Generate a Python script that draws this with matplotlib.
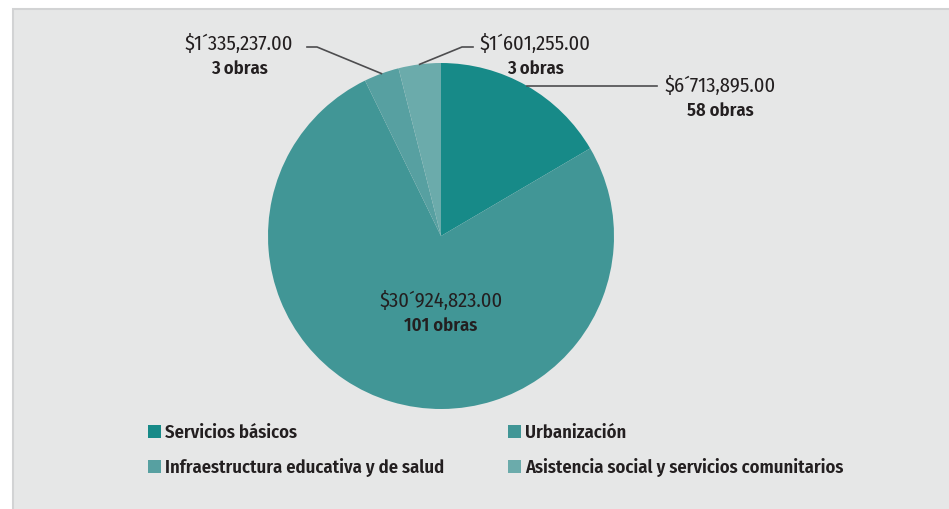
import numpy as np
import matplotlib
matplotlib.use("Agg")
import matplotlib.pyplot as plt
from matplotlib.patches import Rectangle

plt.rcParams['font.family'] = ['Fira Sans Condensed', 'DejaVu Sans']

categories = ["Servicios básicos", "Urbanización",
              "Infraestructura educativa y de salud",
              "Asistencia social y servicios comunitarios"]
amounts = [6713895.00, 30924823.00, 1335237.00, 1601255.00]
amount_labels = ["$6´713,895.00", "$30´924,823.00", "$1´335,237.00", "$1´601,255.00"]
obras = [58, 101, 3, 3]
colors = ["#178a88", "#419696", "#57a0a1", "#6babab"]

W, H = 949, 510
fig = plt.figure(figsize=(W / 100, H / 100), dpi=100)
fig.patch.set_facecolor("white")
ax = fig.add_axes([0, 0, 1, 1])

# gray panel with thin border on top/left
ax.add_patch(Rectangle((13, -5), W, H - 10 + 5, facecolor="#e6e7e7",
                       edgecolor="#d2d3d4", linewidth=1.5, zorder=0))

cx, cy, r = 441, 273, 173
wedges, _ = ax.pie(amounts, colors=colors, startangle=90, counterclock=False,
                   center=(cx, cy), radius=r, frame=True,
                   wedgeprops=dict(linewidth=0))
ax.set_xlim(0, W)
ax.set_ylim(0, H)
ax.axis("off")

txt = "#231f20"
line_c = "#4d4d4f"
fs = 14.8
fs_b = 13.4


def anchor(w):
    a = np.deg2rad((w.theta1 + w.theta2) / 2)
    return cx + r * np.cos(a), cy + r * np.sin(a)


def label(x, y, amount, n):
    ax.text(x, y, amount, ha="center", va="center", fontsize=fs, color=txt)
    ax.text(x, y - 25, f"{n} obras", ha="center", va="center",
            fontsize=fs_b, fontweight="semibold", color=txt)


# Servicios basicos: horizontal leader to the right
x0, y0 = anchor(wedges[0])
ax.plot([x0, 657], [y0, y0], color=line_c, lw=1.2, zorder=3)
label(720, y0 + 1, amount_labels[0], obras[0])

# Urbanizacion: label inside
label(cx, 209, amount_labels[1], obras[1])

# Infraestructura: leader up-left
x0, y0 = anchor(wedges[2])
ax.plot([x0, 317, 307], [y0, 462, 462], color=line_c, lw=1.2, zorder=3)
label(239, 466, amount_labels[2], obras[2])

# Asistencia: leader up-right
x0, y0 = anchor(wedges[3])
ax.plot([x0, 462, 473], [y0, 462, 462], color=line_c, lw=1.2, zorder=3)
label(535, 466, amount_labels[3], obras[3])

# legend (2 columns)
leg_pos = [(148, 77), (508, 77), (148, 42), (508, 42)]
for (lx, ly), name, c in zip(leg_pos, categories, colors):
    ax.add_patch(Rectangle((lx, ly - 6), 13, 13, facecolor=c, edgecolor="none"))
    ax.text(lx + 17, ly, name, ha="left", va="center", fontsize=fs_b,
            fontweight="semibold", color=txt)

fig.savefig("out.png", dpi=100, facecolor=fig.get_facecolor())
